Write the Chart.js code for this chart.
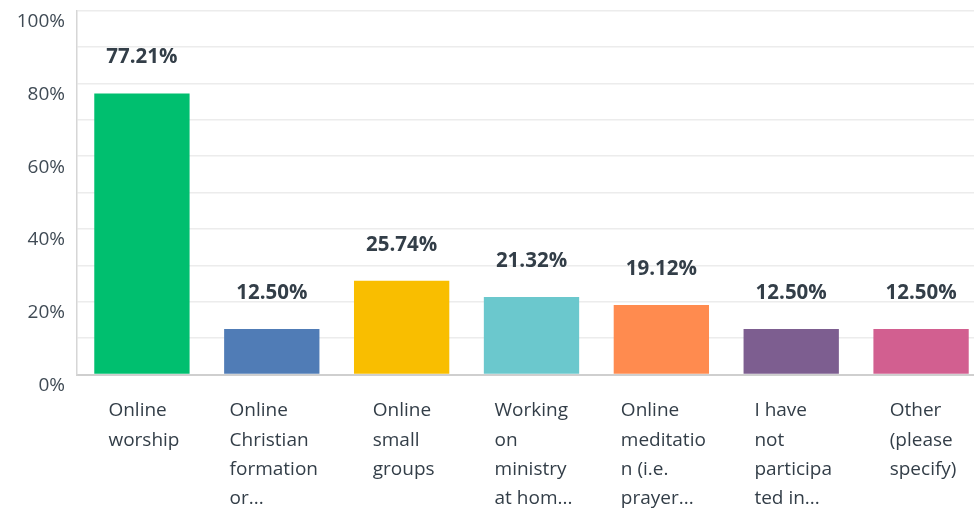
<!DOCTYPE html>
<html>
<head>
<meta charset="utf-8">
<script src="https://cdn.jsdelivr.net/npm/chart.js@4/dist/chart.umd.min.js"></script>
<style>
  html, body { margin: 0; padding: 0; background: #fff; overflow: hidden; }
  #wrap { position: absolute; left: 0; top: 0; width: 986px; height: 510px; }
</style>
</head>
<body>
<div id="wrap"><canvas id="chart"></canvas></div>
<script>
// answer labels, already wrapped the way the survey tool cuts them
const categoryLines = [
  ['Online', 'worship'],
  ['Online', 'Christian', 'formation', 'or...'],
  ['Online', 'small', 'groups'],
  ['Working', 'on', 'ministry', 'at hom...'],
  ['Online', 'meditatio', 'n (i.e.', 'prayer...'],
  ['I have', 'not', 'participa', 'ted in...'],
  ['Other', '(please', 'specify)']
];
const percentValues = [77.21, 12.50, 25.74, 21.32, 19.12, 12.50, 12.50];
const barColors = ['#00bf6f', '#507cb6', '#f9be00', '#6bc8cd', '#ff8b4f', '#7d5e90', '#d25f90'];
const yTickMax = 100;
const yTickStep = 10;

const textColor = '#333e48';
const fontFamily = '"Open Sans", "Noto Sans", sans-serif';

// value labels above bars + left-aligned wrapped category labels
const labelPlugin = {
  id: 'surveyLabels',
  afterDatasetsDraw(chart) {
    const ctx = chart.ctx;
    const meta = chart.getDatasetMeta(0);
    const xScale = chart.scales.x;
    ctx.save();
    ctx.fillStyle = textColor;
    ctx.textBaseline = 'middle';

    ctx.font = '700 20.5px ' + fontFamily;
    ctx.textAlign = 'center';
    meta.data.forEach((bar, i) => {
      ctx.fillText(percentValues[i].toFixed(2) + '%', bar.x, bar.y - 36);
    });

    ctx.font = '400 19px ' + fontFamily;
    ctx.textAlign = 'left';
    categoryLines.forEach((lines, i) => {
      const cx = xScale.getPixelForValue(i);
      let w = 0;
      lines.forEach(l => { w = Math.max(w, ctx.measureText(l).width); });
      const left = cx - w / 2 + 2;
      lines.forEach((l, j) => {
        ctx.fillText(l, left, 411 + j * 29.3);
      });
    });
    ctx.restore();
  }
};

new Chart(document.getElementById('chart'), {
  type: 'bar',
  data: {
    labels: categoryLines.map(l => l.join(' ')),
    datasets: [{
      data: percentValues,
      backgroundColor: barColors,
      borderWidth: 0,
      categoryPercentage: 1,
      barPercentage: 0.734
    }]
  },
  options: {
    responsive: true,
    maintainAspectRatio: false,
    animation: false,
    layout: { padding: { top: 10.5, right: 0, bottom: 0, left: 0 } },
    plugins: {
      legend: { display: false },
      tooltip: { enabled: false }
    },
    scales: {
      x: {
        grid: { display: false },
        border: { display: true, color: '#cfcfcf', width: 2 },
        ticks: { display: false },
        afterFit(scale) { scale.height = 135.5; }
      },
      y: {
        min: 0,
        max: yTickMax,
        grid: { color: '#ececec', lineWidth: 1.5, drawTicks: false },
        border: { display: true, color: '#d6d6d6', width: 1.5 },
        ticks: {
          stepSize: yTickStep,
          padding: 12,
          labelOffset: 11,
          color: '#404b55',
          font: { family: fontFamily, size: 19 },
          callback: v => (v % 20 === 0 ? v + '%' : '')
        },
        afterFit(scale) {
          scale.width = 77;
          scale.paddingTop = 0;
          scale.paddingBottom = 0;
        }
      }
    }
  },
  plugins: [labelPlugin]
});
</script>
</body>
</html>
